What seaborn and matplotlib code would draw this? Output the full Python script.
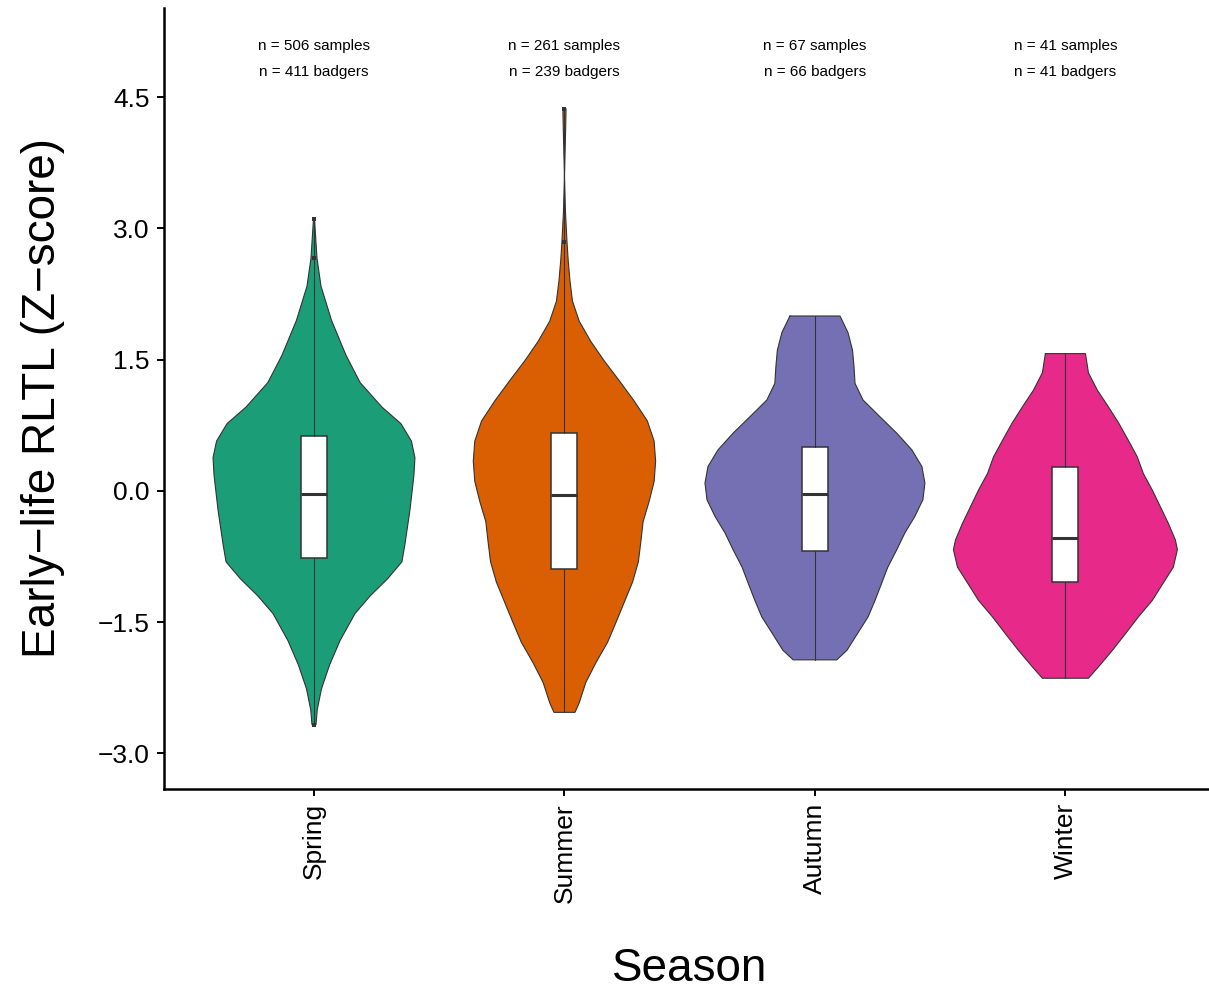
import numpy as np
import matplotlib
matplotlib.use("Agg")
import matplotlib.pyplot as plt
import seaborn as sns

# ---- data -------------------------------------------------------------
seasons = ["Spring", "Summer", "Autumn", "Winter"]
n_samples = [506, 261, 67, 41]
n_badgers = [411, 239, 66, 41]

# violin outlines: RLTL value and half-width of the density at that value
spring_y = [3.11, 2.66, 2.34, 1.95, 1.55, 1.24, 0.96, 0.77, 0.57, 0.38, 0.18,
            -0.22, -0.61, -0.81, -1.00, -1.20, -1.40, -1.71, -1.99, -2.26, -2.50, -2.67]
spring_w = [0.002, 0.012, 0.028, 0.070, 0.128, 0.184, 0.271, 0.347, 0.389, 0.403, 0.399,
            0.383, 0.363, 0.351, 0.295, 0.224, 0.164, 0.104, 0.062, 0.030, 0.013, 0.008]

summer_y = [4.37, 4.30, 4.05, 3.60, 3.19, 2.85, 2.63, 2.40, 2.17, 1.94, 1.71, 1.49, 1.26,
            1.03, 0.80, 0.57, 0.34, 0.11, -0.12, -0.35, -0.58, -0.81, -1.04, -1.27,
            -1.50, -1.73, -1.96, -2.19, -2.42, -2.53]
summer_w = [0.006, 0.006, 0.004, 0.000, 0.004, 0.010, 0.015, 0.022, 0.032, 0.059, 0.105,
            0.158, 0.219, 0.278, 0.331, 0.358, 0.364, 0.358, 0.338, 0.314, 0.305, 0.295,
            0.272, 0.239, 0.206, 0.172, 0.126, 0.085, 0.059, 0.042]

autumn_y = [2.00, 1.81, 1.61, 1.42, 1.23, 1.04, 0.85, 0.66, 0.47, 0.28, 0.09, -0.10,
            -0.29, -0.48, -0.67, -0.87, -1.05, -1.25, -1.44, -1.62, -1.82, -1.93]
autumn_w = [0.100, 0.132, 0.150, 0.156, 0.160, 0.192, 0.259, 0.327, 0.387, 0.427, 0.439,
            0.431, 0.399, 0.359, 0.327, 0.291, 0.267, 0.240, 0.212, 0.172, 0.128, 0.087]

winter_y = [1.57, 1.35, 1.15, 0.96, 0.78, 0.58, 0.39, 0.20, 0.01, -0.18, -0.37, -0.56,
            -0.67, -0.87, -1.05, -1.25, -1.44, -1.63, -1.82, -2.01, -2.14]
winter_w = [0.080, 0.092, 0.128, 0.172, 0.212, 0.251, 0.287, 0.311, 0.347, 0.379, 0.411,
            0.439, 0.447, 0.431, 0.391, 0.347, 0.291, 0.240, 0.188, 0.132, 0.092]

# box summaries: lower whisker, Q1, median, Q3, upper whisker
box_low = [-2.67, -2.53, -1.93, -2.14]
box_q1 = [-0.766, -0.89, -0.686, -1.04]
box_med = [-0.034, -0.046, -0.034, -0.537]
box_q3 = [0.63, 0.66, 0.50, 0.27]
box_high = [3.11, 4.37, 2.00, 1.57]

# isolated extreme observations (season index, value)
extreme_season = [0, 0, 0, 1, 1]
extreme_value = [3.11, 2.66, -2.67, 4.37, 2.85]

yticks = [-3.0, -1.5, 0.0, 1.5, 3.0, 4.5]

# ---- style ------------------------------------------------------------
sns.set_theme(style="ticks")
plt.rcParams["font.family"] = ["Liberation Sans", "DejaVu Sans"]
plt.rcParams["text.color"] = "black"
plt.rcParams["axes.labelcolor"] = "black"
plt.rcParams["xtick.color"] = "black"
plt.rcParams["ytick.color"] = "black"
palette = sns.color_palette("Dark2", 4)
edge = "#333333"

fig = plt.figure(figsize=(12.09, 9.91), dpi=100)
ax = fig.add_axes([163.7 / 1209, (991 - 789) / 991, 1052 / 1209, (789 - 8) / 991])

profiles = [(spring_y, spring_w), (summer_y, summer_w),
            (autumn_y, autumn_w), (winter_y, winter_w)]
positions = np.arange(1, len(seasons) + 1)

for pos, (yy, ww), col in zip(positions, profiles, palette):
    yy = np.asarray(yy)
    ww = np.asarray(ww)
    ax.fill_betweenx(yy, pos - ww, pos + ww, facecolor=col, edgecolor="none", zorder=1)
    outline_x = np.concatenate([pos - ww, (pos + ww)[::-1], [pos - ww[0]]])
    outline_y = np.concatenate([yy, yy[::-1], [yy[0]]])
    ax.plot(outline_x, outline_y, color=edge, lw=0.8, zorder=1.5,
            solid_joinstyle="round")

stats = [dict(whislo=lo, q1=q1, med=md, q3=q3, whishi=hi)
         for lo, q1, md, q3, hi in zip(box_low, box_q1, box_med, box_q3, box_high)]
ax.bxp(stats, positions=positions, widths=0.104, patch_artist=True,
       showfliers=False, showcaps=False,
       boxprops=dict(facecolor="white", edgecolor=edge, linewidth=1.1),
       medianprops=dict(color=edge, linewidth=2.2),
       whiskerprops=dict(color=edge, linewidth=0.8),
       manage_ticks=False, zorder=2)

ax.scatter(positions[np.array(extreme_season)], extreme_value, marker="s", s=9,
           color=edge, zorder=3, linewidths=0)

for pos, ns, nb in zip(positions, n_samples, n_badgers):
    ax.text(pos, 5.08, f"n = {ns} samples", ha="center", va="center", fontsize=11)
    ax.text(pos, 4.785, f"n = {nb} badgers", ha="center", va="center", fontsize=11)

ax.set_xlim(0.4, 4.6)
ax.set_ylim(-3.406, 5.52)
ax.set_yticks(yticks)
ax.set_yticklabels([f"{t:.1f}".replace("-", "\u2212") for t in yticks], fontsize=19)
ax.set_xticks(positions)
ax.set_xticklabels(seasons, rotation=90, fontsize=19)
ax.tick_params(axis="both", length=5, width=1.4, color="black", pad=5)

ax.set_ylabel("Early\u2212life RLTL (Z\u2212score)", fontsize=33, labelpad=24)
ax.set_xlabel("Season", fontsize=33, labelpad=32)

for side in ["top", "right"]:
    ax.spines[side].set_visible(False)
for side in ["left", "bottom"]:
    ax.spines[side].set_linewidth(1.8)
    ax.spines[side].set_color("black")
ax.grid(False)

fig.savefig("out.png", dpi=100)
